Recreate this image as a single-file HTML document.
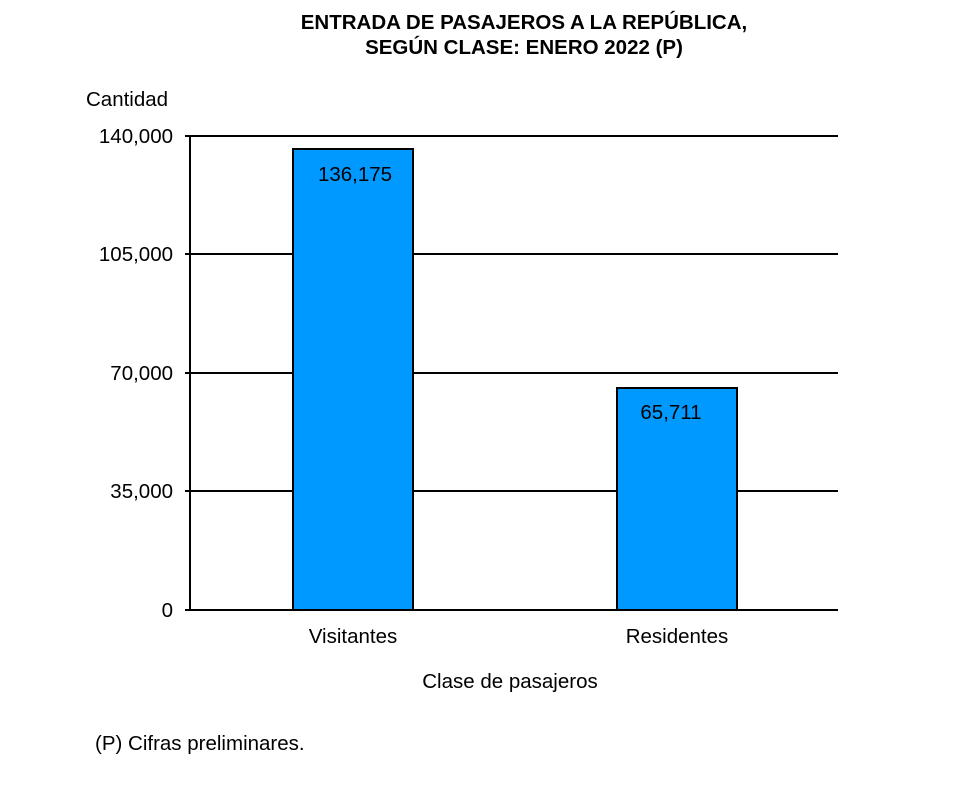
<!DOCTYPE html>
<html><head><meta charset="utf-8"><style>body{margin:0;background:#fff}</style></head><body>
<svg width="978" height="797" xmlns="http://www.w3.org/2000/svg" font-family="Liberation Sans, Arial, sans-serif">
<rect width="978" height="797" fill="#fff"/>
<text x="524" y="29" font-size="20.5" font-weight="bold" text-anchor="middle">ENTRADA DE PASAJEROS A LA REPÚBLICA,</text>
<text x="524" y="54" font-size="20.5" font-weight="bold" text-anchor="middle">SEGÚN CLASE: ENERO 2022 (P)</text>
<text x="86" y="106" font-size="20.5">Cantidad</text>
<g stroke="#000" stroke-width="2">
<line x1="185" y1="136" x2="838" y2="136"/>
<line x1="185" y1="254" x2="838" y2="254"/>
<line x1="185" y1="373" x2="838" y2="373"/>
<line x1="185" y1="491" x2="838" y2="491"/>
<line x1="185" y1="610" x2="838" y2="610"/>
<line x1="190" y1="136" x2="190" y2="610"/>
</g>
<g font-size="20.5" text-anchor="end">
<text x="173" y="143">140,000</text>
<text x="173" y="261">105,000</text>
<text x="173" y="380">70,000</text>
<text x="173" y="498">35,000</text>
<text x="173" y="617">0</text>
</g>
<rect x="293" y="149" width="120" height="461" fill="#0099FF" stroke="#000" stroke-width="2"/>
<rect x="617" y="388" width="120" height="222" fill="#0099FF" stroke="#000" stroke-width="2"/>
<g font-size="20.5" text-anchor="middle">
<text x="355" y="181">136,175</text>
<text x="671" y="419">65,711</text>
<text x="353" y="643">Visitantes</text>
<text x="677" y="643">Residentes</text>
<text x="510" y="688">Clase de pasajeros</text>
</g>
<text x="95" y="750" font-size="20.5">(P) Cifras preliminares.</text>
</svg>
</body></html>
